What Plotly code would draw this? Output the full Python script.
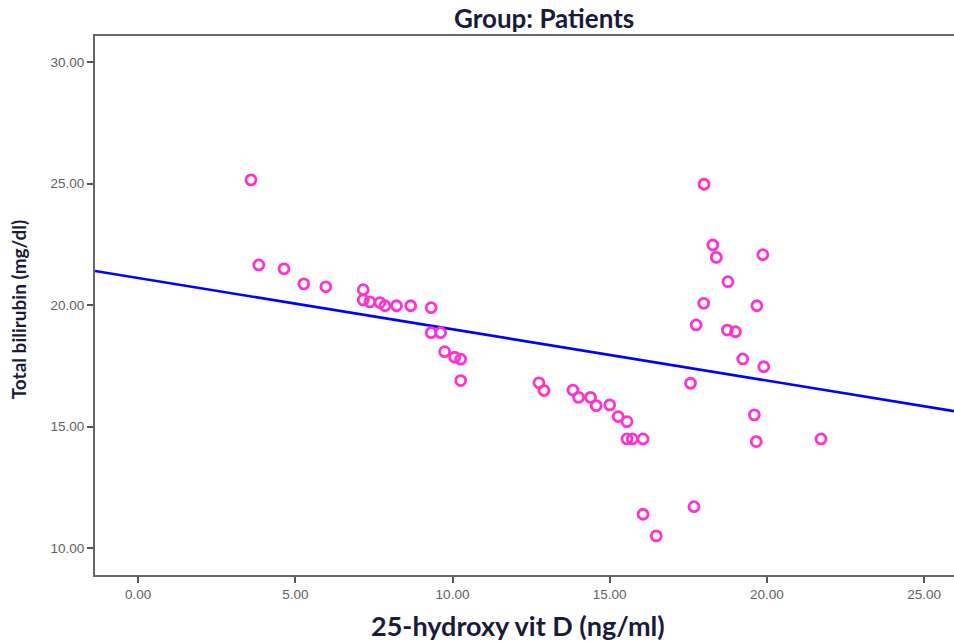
import plotly.graph_objects as go

# Data
vitd = [3.59, 3.84, 4.64, 5.27, 5.97, 7.16, 7.16, 7.37, 7.69, 7.85, 8.22, 8.67, 9.32,
        9.32, 9.62, 9.75, 10.07, 10.26, 10.26,
        12.75, 12.91, 13.83, 14.01, 14.39, 14.57, 15.00, 15.27, 15.55, 15.55, 15.72, 16.06,
        16.06, 16.48, 17.57, 17.68, 17.75, 17.99, 18.00, 18.28, 18.39, 18.76, 18.74, 19.00,
        19.23, 19.60, 19.66, 19.68, 19.87, 19.90, 21.72]
bilirubin = [25.16, 21.66, 21.50, 20.88, 20.76, 20.64, 20.22, 20.14, 20.11, 19.98, 19.98, 19.98, 19.90,
             18.87, 18.87, 18.09, 17.86, 17.78, 16.90,
             16.81, 16.49, 16.51, 16.21, 16.21, 15.87, 15.90, 15.42, 15.21, 14.50, 14.50, 14.50,
             11.40, 10.51, 16.79, 11.71, 19.19, 20.08, 24.98, 22.48, 21.97, 20.97, 18.98, 18.91,
             17.79, 15.49, 14.39, 19.98, 22.08, 17.47, 14.50]

fit_intercept = 21.12
fit_slope = -0.211
x_range = [-1.37, 25.95]
y_range = [8.90, 31.08]
x_ticks = [0, 5, 10, 15, 20, 25]
y_ticks = [10, 15, 20, 25, 30]

fit_x = x_range
fit_y = [fit_intercept + fit_slope * v for v in fit_x]

fig = go.Figure()
fig.add_trace(go.Scatter(
    x=fit_x, y=fit_y, mode="lines",
    line=dict(color="#0000ff", width=2.6), hoverinfo="skip", showlegend=False))
fig.add_trace(go.Scatter(
    x=vitd, y=bilirubin, mode="markers",
    marker=dict(symbol="circle-open", size=10, color="#ff33cc", line=dict(width=2.8, color="#ff33cc")),
    showlegend=False))

axis_common = dict(
    showgrid=False, zeroline=False, showline=True, linecolor="#666666", linewidth=2,
    ticks="outside", ticklen=6, tickwidth=2, tickcolor="#555555",
    tickfont=dict(family="Liberation Sans, Arial", size=13.5, color="#606060"),
    tickformat=".2f",
)
fig.update_xaxes(range=x_range, tickvals=x_ticks, mirror=True, **axis_common)
fig.update_yaxes(range=y_range, tickvals=y_ticks, mirror=False, **axis_common)

txt = "#1a1a3a"
fig.update_layout(
    width=954, height=642,
    margin=dict(l=95, r=0, t=36, b=67),
    plot_bgcolor="white", paper_bgcolor="white",
    annotations=[
        dict(text="<b>Group: Patients</b>", xref="paper", yref="paper", x=0.523, y=1.0,
             yshift=18, showarrow=False, font=dict(family="Lato", size=26, color=txt),
             xanchor="center", yanchor="middle"),
        dict(text="<b>25-hydroxy vit D (ng/ml)</b>", xref="paper", yref="paper", x=0.492, y=0,
             yshift=-50, showarrow=False, font=dict(family="Lato", size=27, color=txt),
             xanchor="center", yanchor="middle"),
        dict(text="<b>Total bilirubin (mg/dl)</b>", xref="paper", yref="paper", x=0, y=0.493,
             xshift=-77, showarrow=False, textangle=-90,
             font=dict(family="Lato", size=19, color=txt),
             xanchor="center", yanchor="middle"),
    ],
)

fig.write_html("out.html", config={"displayModeBar": False},
               post_script="document.body.style.margin='0';")
